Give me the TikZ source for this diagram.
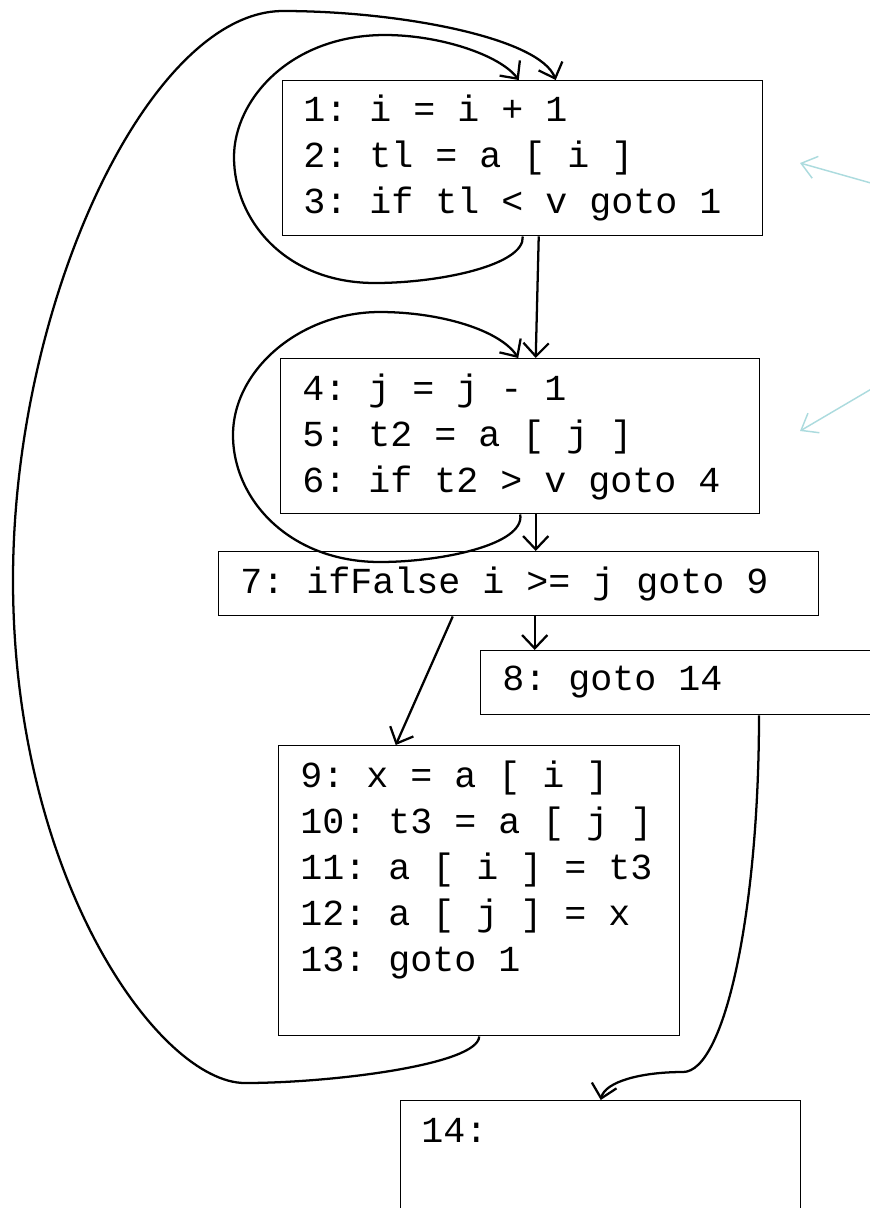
\documentclass[tikz,border=0pt]{standalone}
\usepackage{fontspec}
\setmonofont{Liberation Mono}
\usetikzlibrary{calc,arrows.meta}
\definecolor{notecol}{RGB}{172,219,222}
\tikzset{
	blk/.style={draw, line width=1.1pt, inner sep=0pt, anchor=north west},
	code/.style={inner sep=0pt, anchor=base west, align=flush left, text width=420pt, font=\ttfamily\fontsize{27.5pt}{34.5pt}\selectfont},
	flow/.style={line width=1.7pt, -{Straight Barb[length=10pt,width=19pt]}},
	note/.style={line width=1.1pt, color=notecol, -{Straight Barb[length=11pt,width=17pt]}}
}

\begin{document}
\begin{tikzpicture}[x=0.75pt, y=-0.75pt]
		%%%%% START %%%%%
		\useasboundingbox (0,0) rectangle (870,1208);
		\clip (0,0) rectangle (870,1208);
		
		% blocks
		\node[blk, minimum width=360pt, minimum height=116.25pt] (b1) at (282,80) {};
		\node[blk, minimum width=359.25pt, minimum height=116.25pt] (b2) at (280,358) {};
		\node[blk, minimum width=450pt, minimum height=48pt] (b3) at (218,551) {};
		\node[blk, minimum width=315pt, minimum height=48pt] (b4) at (480,650) {};
		\node[blk, minimum width=300.75pt, minimum height=217.5pt] (b5) at (278,745) {};
		\node[blk, minimum width=300pt, minimum height=105pt] (b6) at (400,1100) {};
		
		% code
		\node[code] (t1) at (303,121) {1: i = i + 1\\2: tl = a [ i ]\\3: if tl < v goto 1};
		\node[code] (t2) at (302,400) {4: j = j - 1\\5: t2 = a [ j ]\\6: if t2 > v goto 4};
		\node[code] (t3) at (240,593) {7: ifFalse i >= j goto 9};
		\node[code] (t4) at (502,690) {8: goto 14};
		\node[code] (t5) at (300,787) {9: x = a [ i ]\\10: t3 = a [ j ]\\11: a [ i ] = t3\\12: a [ j ] = x\\13: goto 1};
		\node[code] (t6) at (421,1142) {14:};
		
		% loops
		\draw[flow] (b1.south) .. controls (525,265) and (440,283) .. (375,283)
			.. controls (285,283) and (234,220) .. (234,157)
			.. controls (234,100) and (290,35) .. (385,35)
			.. controls (440,35) and (500,55) .. ($(b1.north)+(-4,0)$);
		\draw[flow] (b2.south) .. controls (525,545) and (440,562) .. (380,562)
			.. controls (290,562) and (233,500) .. (233,435)
			.. controls (233,370) and (300,312) .. (380,312)
			.. controls (440,312) and (500,330) .. ($(b2.north)+(-2,0)$);
		\draw[flow] (b5.south) .. controls (478,1065) and (330,1083) .. (245,1083)
			.. controls (160,1083) and (13,880) .. (13,580)
			.. controls (13,300) and (150,11) .. (283,11)
			.. controls (400,11) and (540,38) .. ($(b1.north)+(33,0)$);
		
		% straight edges
		\draw[flow] ($(b1.south)+(16,0)$) -- ($(b2.north)+(15.5,0)$);
		\draw[flow] ($(b2.south)+(15.5,0)$) -- ($(b3.north)+(17,0)$);
		\draw[flow] ($(b3.south)+(16,0)$) coordinate (c78) -- (c78 |- b4.north);
		\draw[flow] ($(b3.south)+(-66,0)$) -- ($(b5.north)+(-83.5,0)$);
		\draw[flow] ($(b4.south west)+(279,0)$) .. controls (759,910) and (725,1072) .. (683,1072)
			.. controls (640,1072) and (605,1082) .. (b6.north);
		
		% notes
		\coordinate (n1) at (885,187);
		\coordinate (n1tip) at (800,163);
		\coordinate (n2) at (885,381);
		\coordinate (n2tip) at (800,431);
		\draw[note] (n1) -- (n1tip);
		\draw[note] (n2) -- (n2tip);
		
		%%%%% END %%%%%
	\end{tikzpicture}
\end{document}
